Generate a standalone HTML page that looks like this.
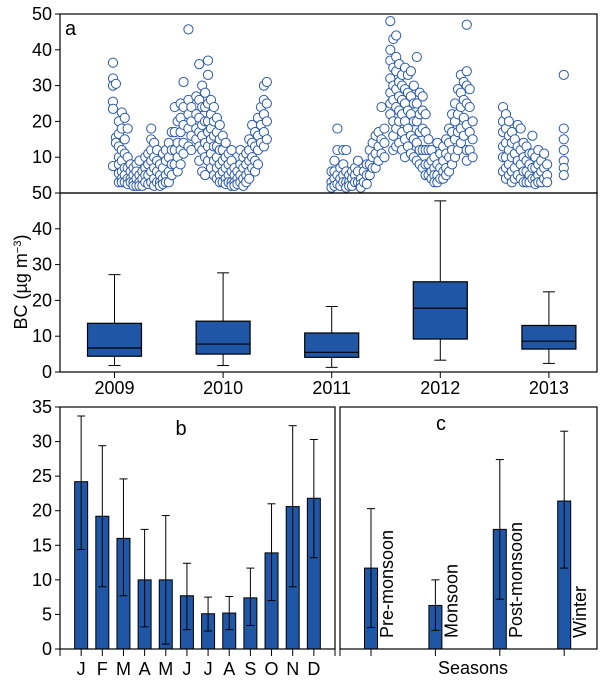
<!DOCTYPE html>
<html><head><meta charset="utf-8"><style>
body{margin:0;background:#fff;}
svg{display:block;font-family:"Liberation Sans",Arial,sans-serif;}
</style></head><body>
<svg id="chart" width="605" height="681" viewBox="0 0 605 681"></svg>
<script>
// ---- Data ----
const scatterDates = [0.01,0.04,0.07,0.10,0.13,0.16,0.19,0.22,0.25,0.28,0.31,0.34,0.37,0.40,0.43,0.46,0.49,0.52,0.55,0.58,0.61,0.64,0.67,0.70,0.73,0.78,0.81,0.86,0.89,0.92,0.95,0.98,1.01,1.04,1.07,1.10,1.13,1.16,1.19,1.22,1.25,1.28,1.31,1.34,1.37,1.40,1.43,1.46,1.49,1.52,1.55,1.58,
2.24,2.27,2.30,2.33,2.36,2.39,2.42,2.45,2.48,2.51,2.54,2.57,2.60,2.63,2.66,2.69,2.72,2.75,2.78,
2.84,2.87,2.90,2.93,2.96,2.99,3.02,3.05,3.08,3.11,3.14,3.17,3.20,3.23,3.26,3.29,3.32,3.35,3.38,3.41,3.44,3.47,3.50,3.53,3.56,3.59,3.62,3.65,3.68,
3.99,4.02,4.05,4.08,4.11,4.14,4.17,4.20,4.23,4.26,4.29,4.32,4.35,4.38,4.41,4.44,4.61];
const scatterValues = [[36.4,32,30,25.5,23.5,7.5],[30.5,15.5,14],[20,16.5,13,10,8,5.5,3],[22.5,18,12,9,6,4,3],[21,15,11,7,5,3],[18,10,7,4,2.5],[8,6,4,3],[7,5,3,2],[8,6,4,2],[9,5,3,2],[6,4,2],[10,7,5,3],[11,8,5,2.5],[18,15,12,9,6,3],[14,10,7,4,2],[12,9,6,3],[8,5,3,2],[11,7,4,2.5],[12,9,5,3],[14,10,6,3],[17,12,8,5],[24,17,12,8],[20,14,10,6],[25,21,17,12,8],[31,24,19,14,11],[45.7,26,22,18,13],[24,20,16,12],
[27,22,18,15],[36,26,21,17,13,9],[30,24,19,16,12,6],[28,24,20,14,10,5],[37,33,25,20,17,13,9],[26,22,18,15,11,7],[24,20,16,13,9,5],[21,17,13,10,7,4],[19,15,12,8,5,3],[16,12,9,6,3],[14,10,7,4,2.5],[11,8,5,3],[12,9,6,3,2],[7,5,3,2],[6,4,2.5],[12,8,5,3],[10,7,4,2],[11,8,5,3],[15,12,9,6,4],[19,14,10,7],[17,13,9,6],[21,16,12,8],[24,19,14],[30,26,22,17,13],[31,25,20,15],
[6,3,1.5],[9,6,4,2],[18,12,5,2.5],[7,4,2],[12,8,5,3],[12,6,3,1.5],[5,3,2],[6,4,2],[7,5,3],[9,6,3],[4,2.5,1.5],[6,3],[8,5,2.5],[12,8,5],[14,10,7],[16,11,7],[17,13,9],[24,15,11],[18,14,10],
[48,40,37,32,28,25,22],[43,35,30,26,20,16,12],[44,38,34,29,24,18,13],[36,31,27,23,20,14],[33,30,26,22,17,12],[35,29,25,20,15,10],[33,28,23,18,13],[34,27,22,16,11],[30,25,20,15,10],[38,25,20,14,9],[28,22,17,12,8],[27,23,18,12,7],[22,17,12,8,5],[15,12,8,5],[12,9,6,4],[10,7,5,3],[14,8,5,3],[11,7,4],[13,9,6,4],[15,11,7,5],[18,14,10,6],[22,17,12,8],[25,20,15,10],[29,22,17,12],[33,28,24,18,14],[31,26,21,16],[34,47,30,25,19,12,9],[29,24,17,12],[20,15,10],
[24,20,17,13,10,6],[22,18,14,10,7,4],[20,16,12,8,5],[17,14,10,6,3],[15,11,7,4],[19,13,9,5],[18,12,8,4],[14,10,6,3],[13,9,6,3],[11,8,5,3],[16,11,7,4],[10,7,4,2.5],[12,8,5,3],[9,6,3],[11,7,4],[8,5,3],[18,15,12,9,7,5,33]];
const years = ["2009","2010","2011","2012","2013"];
const boxLow = [1.8,1.8,1.3,3.3,2.4];
const boxQ1 = [4.4,5.0,4.1,9.2,6.4];
const boxMed = [6.7,7.8,5.5,17.8,8.6];
const boxQ3 = [13.6,14.2,10.9,25.2,13.0];
const boxHigh = [27.2,27.7,18.3,47.8,22.4];
const months = ["J","F","M","A","M","J","J","A","S","O","N","D"];
const monthMean = [24.2,19.2,16.0,10.0,10.0,7.7,5.1,5.2,7.4,13.9,20.6,21.8];
const monthLow = [14.4,9.0,7.7,3.2,0.7,2.8,2.6,2.8,3.4,7.0,9.0,13.2];
const monthHigh = [33.7,29.4,24.6,17.3,19.3,12.4,7.5,7.6,11.7,21.0,32.3,30.3];
const seasons = ["Pre-monsoon","Monsoon","Post-monsoon","Winter"];
const seasonMean = [11.7,6.3,17.3,21.4];
const seasonLow = [3.1,2.7,7.2,11.7];
const seasonHigh = [20.3,10.0,27.4,31.5];
const aTicks = [10,20,30,40,50];
const boxTicks = [0,10,20,30,40,50];
const bTicks = [0,5,10,15,20,25,30,35];

const NS="http://www.w3.org/2000/svg";
const svg=document.getElementById('chart');
function mk(tag,attrs,parent){const e=document.createElementNS(NS,tag);for(const k in attrs)e.setAttribute(k,attrs[k]);(parent||svg).appendChild(e);return e;}
function txt(s,attrs,parent){const e=mk('text',attrs,parent);e.textContent=s;return e;}
const BLUE="#1f56a5", CIRC="#2b5aa6";
const L=60,R=597,FS=18;

// Panel a
const aTop=14,aBot=193;
const yA=v=>aBot-(v/50)*(aBot-aTop);
const xT=t=>112+t*98;
const gA=mk('g',{});


scatterDates.forEach((t,i)=>{scatterValues[i].forEach(v=>{
  const c=mk('circle',{cx:xT(t),cy:yA(v),r:4.6,fill:'#fff',stroke:CIRC,'stroke-width':1},gA);
  
  
});});
const fa=mk('rect',{x:L,y:aTop,width:R-L,height:aBot-aTop,fill:'none',stroke:'#000','stroke-width':1.2});


const la=txt('a',{x:65,y:35,'font-size':20});


aTicks.forEach(v=>{mk('line',{x1:L-5,x2:L,y1:yA(v),y2:yA(v),stroke:'#000'});
  const t=txt(String(v),{x:L-8,y:yA(v)+6,'font-size':FS,'text-anchor':'end'});
  
  });

// Box panel
const bTop=193,bBot=372;
const yB=v=>bBot-(v/50)*(bBot-bTop);
const xY=i=>114.5+i*108.6;
years.forEach((y,i)=>{const x=xY(i),w=27;
  mk('line',{x1:x,x2:x,y1:yB(boxLow[i]),y2:yB(boxQ1[i]),stroke:'#000'});
  mk('line',{x1:x,x2:x,y1:yB(boxQ3[i]),y2:yB(boxHigh[i]),stroke:'#000'});
  mk('line',{x1:x-6,x2:x+6,y1:yB(boxLow[i]),y2:yB(boxLow[i]),stroke:'#000'});
  mk('line',{x1:x-6,x2:x+6,y1:yB(boxHigh[i]),y2:yB(boxHigh[i]),stroke:'#000'});
  const b=mk('rect',{x:x-w,y:yB(boxQ3[i]),width:2*w,height:yB(boxQ1[i])-yB(boxQ3[i]),fill:BLUE,stroke:'#000','stroke-width':1.2});
  
  
  mk('line',{x1:x-w,x2:x+w,y1:yB(boxMed[i]),y2:yB(boxMed[i]),stroke:'#000','stroke-width':1.2});
  mk('line',{x1:x,x2:x,y1:bBot,y2:bBot+6,stroke:'#000'});
  const t=txt(y,{x:x,y:bBot+22,'font-size':FS,'text-anchor':'middle'});
  
  
});
const fb=mk('rect',{x:L,y:bTop,width:R-L,height:bBot-bTop,fill:'none',stroke:'#000','stroke-width':1.2});


boxTicks.forEach(v=>{mk('line',{x1:L-5,x2:L,y1:yB(v),y2:yB(v),stroke:'#000'});
  const t=txt(String(v),{x:L-8,y:yB(v)+6,'font-size':FS,'text-anchor':'end'});
  
  });
const yl=txt('',{transform:'translate(27,282) rotate(-90)','font-size':18,'text-anchor':'middle'});
yl.innerHTML='BC (µg m<tspan dy="-6" font-size="11">−3</tspan><tspan dy="6">)</tspan>';



// Panel b
const pTop=407,pBot=649;
const yP=v=>pBot-(v/35)*(pBot-pTop);
const bR=335;
const xM=i=>L+(i+1)*(bR-L)/13;
mk('line',{x1:L,x2:L,y1:pBot,y2:pBot+7,stroke:'#000'});
mk('line',{x1:bR,x2:bR,y1:pBot,y2:pBot+7,stroke:'#000'});
months.forEach((m,i)=>{const x=xM(i),w=6.5;
  const b=mk('rect',{x:x-w,y:yP(monthMean[i]),width:2*w,height:pBot-yP(monthMean[i]),fill:BLUE,stroke:'#000','stroke-width':1});
  
  
  mk('line',{x1:x,x2:x,y1:yP(monthLow[i]),y2:yP(monthHigh[i]),stroke:'#000'});
  mk('line',{x1:x-4,x2:x+4,y1:yP(monthLow[i]),y2:yP(monthLow[i]),stroke:'#000'});
  mk('line',{x1:x-4,x2:x+4,y1:yP(monthHigh[i]),y2:yP(monthHigh[i]),stroke:'#000'});
  mk('line',{x1:x,x2:x,y1:pBot,y2:pBot+7,stroke:'#000'});
  const t=txt(m,{x:x,y:pBot+26,'font-size':FS,'text-anchor':'middle'});
  
  
});
const fp=mk('rect',{x:L,y:pTop,width:bR-L,height:pBot-pTop,fill:'none',stroke:'#000','stroke-width':1.2});


bTicks.forEach(v=>{mk('line',{x1:L-5,x2:L,y1:yP(v),y2:yP(v),stroke:'#000'});
  const t=txt(String(v),{x:L-8,y:yP(v)+6,'font-size':FS,'text-anchor':'end'});
  
  });
const lb=txt('b',{x:181,y:435,'font-size':20,'text-anchor':'middle'});



// Panel c
const cL=340;
const xS=i=>371+i*64.4;
mk('line',{x1:cL,x2:cL,y1:pBot,y2:pBot+7,stroke:'#000'});
seasons.forEach((s,i)=>{const x=xS(i),w=6.5;
  const b=mk('rect',{x:x-w,y:yP(seasonMean[i]),width:2*w,height:pBot-yP(seasonMean[i]),fill:BLUE,stroke:'#000','stroke-width':1});
  
  
  mk('line',{x1:x,x2:x,y1:yP(seasonLow[i]),y2:yP(seasonHigh[i]),stroke:'#000'});
  mk('line',{x1:x-4,x2:x+4,y1:yP(seasonLow[i]),y2:yP(seasonLow[i]),stroke:'#000'});
  mk('line',{x1:x-4,x2:x+4,y1:yP(seasonHigh[i]),y2:yP(seasonHigh[i]),stroke:'#000'});
  mk('line',{x1:x,x2:x,y1:pBot,y2:pBot+7,stroke:'#000'});
  const t=txt(s,{transform:`translate(${x+22},638) rotate(-90)`,'font-size':FS});
  
  
});
const fc=mk('rect',{x:cL,y:pTop,width:R-cL,height:pBot-pTop,fill:'none',stroke:'#000','stroke-width':1.2});


const lc=txt('c',{x:441,y:430,'font-size':20,'text-anchor':'middle'});


const sx=txt('Seasons',{x:473,y:674,'font-size':FS,'text-anchor':'middle'});


</script>
</body></html>
